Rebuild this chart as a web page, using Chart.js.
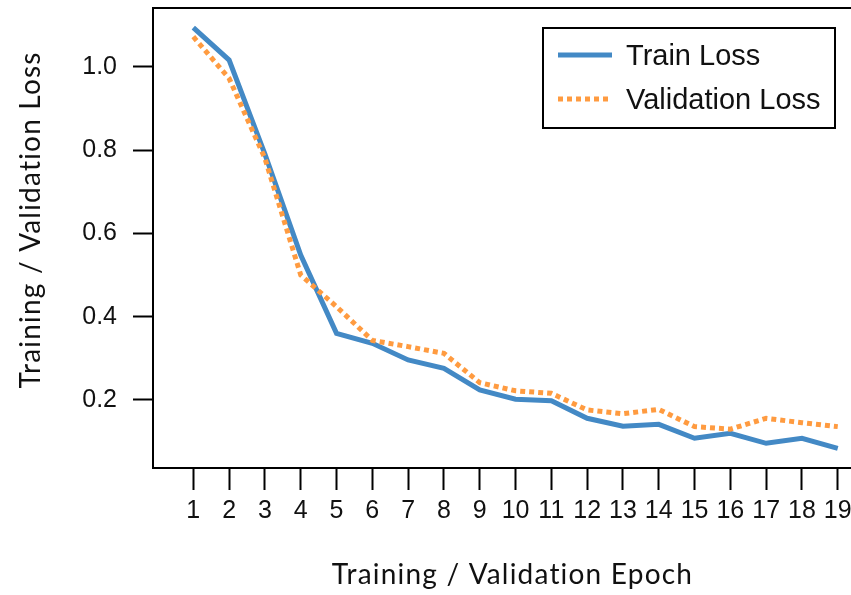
<!DOCTYPE html>
<html><head><meta charset="utf-8">
<script src="https://cdn.jsdelivr.net/npm/chart.js@4/dist/chart.umd.min.js"></script>
<style>html,body{margin:0;padding:0;background:#fff;overflow:hidden}#wrap{width:851px;height:595px;position:relative}</style>
</head><body><div id="wrap"><canvas id="c" width="851" height="595"></canvas></div>
<script>
const epochs = [1,2,3,4,5,6,7,8,9,10,11,12,13,14,15,16,17,18,19];
const trainLoss = [1.094,1.016,0.79,0.548,0.36,0.336,0.296,0.276,0.224,0.202,0.198,0.156,0.137,0.1415,0.108,0.12,0.096,0.108,0.084];
const valLoss = [1.072,0.972,0.78,0.50,0.424,0.343,0.328,0.312,0.2415,0.222,0.216,0.176,0.167,0.1775,0.136,0.13,0.156,0.1455,0.136];
const yTicks = [0.2,0.4,0.6,0.8,1.0];
const seriesNames = ['Train Loss','Validation Loss'];
const xTitle = 'Training / Validation Epoch';
const yTitle = 'Training / Validation Loss';

const BLUE = '#4389C5', ORANGE = '#FF9B40';
const TITLE_FONT = '28px Lato';
const LEGEND_FONT = '29px "Liberation Sans"';

const framePlugin = {
  id: 'frame',
  afterDraw(chart) {
    const {ctx, chartArea: a} = chart;
    ctx.save();
    ctx.strokeStyle = '#000'; ctx.lineWidth = 2;
    ctx.beginPath(); ctx.moveTo(a.left - 1, a.top); ctx.lineTo(a.right + 2, a.top); ctx.stroke();
    ctx.fillStyle = '#111'; ctx.font = TITLE_FONT; ctx.textAlign = 'center'; ctx.textBaseline = 'alphabetic';
    try { ctx.letterSpacing = '1.2px'; } catch (e) {}
    ctx.fillText(xTitle, 512.5, 584);
    ctx.translate(40, 220); ctx.rotate(-Math.PI/2);
    ctx.fillText(yTitle, 0, 0);
    ctx.restore();
    ctx.save();
    const bx = 543, by = 28, bw = 292, bh = 100;
    ctx.fillStyle = '#fff'; ctx.fillRect(bx, by, bw, bh);
    ctx.strokeStyle = '#000'; ctx.lineWidth = 2; ctx.strokeRect(bx, by, bw, bh);
    const ds = chart.data.datasets;
    const rows = [55, 99];
    ds.forEach((d, i) => {
      ctx.strokeStyle = d.borderColor; ctx.lineWidth = d.borderWidth; ctx.lineCap = 'butt';
      ctx.setLineDash(d.borderDash || []);
      ctx.beginPath(); ctx.moveTo(558, rows[i]); ctx.lineTo(612, rows[i]); ctx.stroke();
      ctx.setLineDash([]);
      ctx.fillStyle = '#111'; ctx.font = LEGEND_FONT; ctx.textAlign = 'left'; ctx.textBaseline = 'alphabetic';
      ctx.fillText(d.label, 626, rows[i] + 10);
    });
    ctx.restore();
  }
};

new Chart(document.getElementById('c').getContext('2d'), {
  type: 'line',
  data: {
    datasets: [
      {label: seriesNames[0], data: epochs.map((e,i)=>({x:e, y:trainLoss[i]})), borderColor: BLUE, backgroundColor: BLUE,
       borderWidth: 5, pointRadius: 0, tension: 0, fill: false, order: 1},
      {label: seriesNames[1], data: epochs.map((e,i)=>({x:e, y:valLoss[i]})), borderColor: ORANGE, backgroundColor: ORANGE,
       borderWidth: 5, borderDash: [5,4], borderCapStyle: 'butt', pointRadius: 0, tension: 0, fill: false, order: 0}
    ]
  },
  options: {
    responsive: false, animation: false, devicePixelRatio: 1,
    layout: {padding: {top: 8, left: 0, right: 0, bottom: 0}},
    plugins: {legend: {display: false}, tooltip: {enabled: false}},
    scales: {
      x: {
        type: 'linear', min: -0.126, max: 19.37,
        afterBuildTicks: s => { s.ticks = epochs.map(v => ({value: v})); },
        afterFit: s => { s.height = 127; s.paddingLeft = 0; s.paddingRight = 0; },
        grid: {drawOnChartArea: false, drawTicks: true, tickLength: 22, tickWidth: 2, tickColor: '#000'},
        border: {display: true, color: '#000', width: 2},
        ticks: {color: '#111', font: {family: 'Liberation Sans', size: 25}, padding: 6, maxRotation: 0, autoSkip: false}
      },
      y: {
        type: 'linear', min: 0.0367, max: 1.141,
        afterBuildTicks: s => { s.ticks = yTicks.map(v => ({value: v})); },
        afterFit: s => { s.width = 153; s.paddingTop = 0; s.paddingBottom = 0; },
        grid: {drawOnChartArea: false, drawTicks: true, tickLength: 20, tickWidth: 2, tickColor: '#000'},
        border: {display: true, color: '#000', width: 2},
        ticks: {color: '#111', font: {family: 'Liberation Sans', size: 25}, padding: 16, callback: v => v.toFixed(1)}
      }
    }
  },
  plugins: [framePlugin]
});
</script></body></html>
